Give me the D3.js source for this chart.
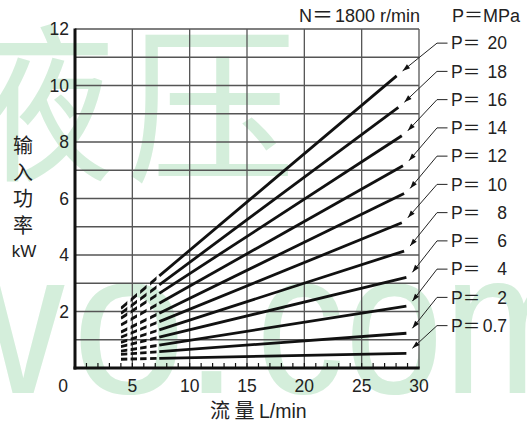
<!DOCTYPE html>
<html>
<head>
<meta charset="utf-8">
<script src="https://cdn.jsdelivr.net/npm/d3@7"></script>
<style>
  html, body { margin: 0; padding: 0; background: #fff; }
  svg { display: block; }
</style>
</head>
<body>
<svg id="chart" width="527" height="425"></svg>
<script>
// ---- data ----
const pressures   = [20, 18, 16, 14, 12, 10, 8, 6, 4, 2, 0.7];
const pLabels     = ["20", "18", "16", "14", "12", "10", "8", "6", "4", "2", "0.7"];
const dashStartQ  = 4.0;
const solidStartQ = 7.35;
const powerAtDashStart  = [2.11, 1.93, 1.76, 1.52, 1.27, 1.09, 0.91, 0.76, 0.60, 0.48, 0.31];
const powerAtSolidStart = [3.26, 2.94, 2.64, 2.29, 1.94, 1.64, 1.35, 1.09, 0.81, 0.58, 0.34];
const endQ        = [28.05, 28.2, 28.5, 28.6, 28.7, 28.5, 28.7, 28.9, 28.9, 28.9, 28.9];
const powerAtEnd  = [10.34, 9.23, 8.22, 7.16, 6.18, 5.14, 4.14, 3.21, 2.19, 1.23, 0.52];
const labelPower  = [11.5, 10.5, 9.5, 8.5, 7.5, 6.5, 5.5, 4.5, 3.5, 2.5, 1.5];
const dashStarts  = [4.0, 4.85, 5.68, 6.55];
const dashLen     = 0.56;
const xTicks      = [0, 5, 10, 15, 20, 25, 30];
const yTicks      = [0, 2, 4, 6, 8, 10, 12];
const yGrid       = d3.range(1, 13);
const xMinor      = d3.range(1, 30);
const yTitleChars = ["输", "入", "功", "率"];

// ---- setup ----
const svg = d3.select("#chart");
const x = d3.scaleLinear().domain([0, 30]).range([75, 419]);
const y = d3.scaleLinear().domain([0, 12]).range([368, 29]);
const latin = "'Liberation Sans', Arial, Helvetica, sans-serif";
const cjk = "'Noto Sans CJK SC', 'Noto Sans CJK JP', sans-serif";
const wm = "#d4eedb";
const ink = "#222";

// ---- watermark ----
const wmg = svg.append("g").attr("fill", wm);
wmg.append("text").attr("x", -55).attr("y", 168).attr("font-family", cjk)
  .attr("font-size", 170).text("液");
wmg.append("text").attr("x", 126).attr("y", 170).attr("font-family", cjk)
  .attr("font-size", 170).text("压");
[["w", -84], ["o", 72], [".", 183]].forEach(([t, px]) => {
  wmg.append("text").attr("x", px).attr("y", 393).attr("font-family", latin)
    .attr("font-size", 205).text(t);
});
wmg.append("text").attr("x", 256).attr("y", 393).attr("font-family", latin)
  .attr("font-size", 205).attr("textLength", 335).attr("lengthAdjust", "spacingAndGlyphs").text("com");

// ---- grid ----
const grid = svg.append("g").attr("stroke", "#555").attr("stroke-width", 1.3);
grid.selectAll("line.v").data(xTicks.filter(d => d > 0)).join("line")
  .attr("x1", d => x(d)).attr("x2", d => x(d)).attr("y1", y(0)).attr("y2", y(12));
grid.selectAll("line.h").data(yGrid).join("line")
  .attr("x1", x(0)).attr("x2", x(30)).attr("y1", d => y(d)).attr("y2", d => y(d));

// minor ticks on x axis
svg.append("g").attr("stroke", "#111").attr("stroke-width", 1.2)
  .selectAll("line").data(xMinor).join("line")
  .attr("x1", d => x(d)).attr("x2", d => x(d)).attr("y1", y(0)).attr("y2", y(0) - 5);

// axis lines
svg.append("line").attr("x1", x(0)).attr("x2", x(0)).attr("y1", y(12) - 0.5).attr("y2", y(0) + 1.5)
  .attr("stroke", "#111").attr("stroke-width", 3);
svg.append("line").attr("x1", x(0) - 1.5).attr("x2", x(30) + 0.7).attr("y1", y(0)).attr("y2", y(0))
  .attr("stroke", "#111").attr("stroke-width", 3);

// tick labels
svg.append("g").selectAll("text").data(yTicks.filter(d => d > 0)).join("text")
  .attr("x", 69).attr("y", d => y(d) + 6.3).attr("text-anchor", "end")
  .attr("font-family", latin).attr("font-size", 17.5).attr("fill", ink).text(d => d);
svg.append("g").selectAll("text").data(xTicks).join("text")
  .attr("x", d => d === 0 ? x(0) - 12 : x(d)).attr("y", 392).attr("text-anchor", "middle")
  .attr("font-family", latin).attr("font-size", 17.5).attr("fill", ink).text(d => d);

// ---- series ----
const defs = svg.append("defs");
const clip = defs.append("clipPath").attr("id", "dashclip");
clip.selectAll("rect").data(dashStarts).join("rect")
  .attr("x", d => x(d)).attr("width", x(dashLen) - x(0))
  .attr("y", 0).attr("height", 425);

const series = pressures.map((p, i) => ({
  p, label: pLabels[i],
  dash: [[dashStartQ, powerAtDashStart[i]], [solidStartQ, powerAtSolidStart[i]]],
  solid: [[solidStartQ, powerAtSolidStart[i]], [endQ[i], powerAtEnd[i]]],
  labelY: labelPower[i]
}));
const line = d3.line().x(d => x(d[0])).y(d => y(d[1]));

const lines = svg.append("g").attr("fill", "none").attr("stroke", "#111").attr("stroke-width", 2.8);
lines.selectAll("path.dash").data(series).join("path").attr("class", "dash")
  .attr("clip-path", "url(#dashclip)").attr("d", d => line(d.dash));
lines.selectAll("path.solid").data(series).join("path").attr("class", "solid")
  .attr("d", d => line(d.solid));

// ---- leaders & labels ----
const lab = svg.append("g");
series.forEach(s => {
  const end = s.solid[1];
  const tx = x(end[0]) + 6, ty = y(end[1]) - 5;
  const ly = y(s.labelY);
  const sx = 437;
  lab.append("line").attr("x1", sx).attr("x2", 447.5).attr("y1", ly).attr("y2", ly)
    .attr("stroke", ink).attr("stroke-width", 1);
  lab.append("line").attr("x1", sx).attr("y1", ly).attr("x2", tx).attr("y2", ty)
    .attr("stroke", ink).attr("stroke-width", 1);
  const ang = Math.atan2(ty - ly, tx - sx);
  const L = 7.5, W = 2.5;
  const bx = tx - L * Math.cos(ang), by = ty - L * Math.sin(ang);
  const px = -Math.sin(ang) * W, py = Math.cos(ang) * W;
  lab.append("path").attr("d", `M${tx},${ty}L${bx + px},${by + py}L${bx - px},${by - py}Z`)
    .attr("fill", "#111");
  const t = lab.append("text").attr("x", 451).attr("y", ly + 6.2)
    .attr("font-family", latin).attr("font-size", 17.5).attr("fill", ink);
  t.append("tspan").text("P");
  t.append("tspan").attr("font-family", cjk).attr("font-size", 17.5).text("＝");
  lab.append("text").attr("x", 507).attr("y", ly + 6.2).attr("text-anchor", "end")
    .attr("font-family", latin).attr("font-size", 17.5).attr("fill", ink).text(s.label);
});

// header texts
const h1 = svg.append("text").attr("x", 299).attr("y", 21.5).attr("font-family", latin)
  .attr("font-size", 18).attr("fill", ink);
h1.append("tspan").text("N");
h1.append("tspan").attr("font-family", cjk).attr("font-size", 21).text("＝");
h1.append("tspan").attr("dx", 2).text("1800 r/min");
const h2 = svg.append("text").attr("x", 452).attr("y", 21.5).attr("font-family", latin)
  .attr("font-size", 18).attr("fill", ink);
h2.append("tspan").text("P");
h2.append("tspan").attr("font-family", cjk).attr("font-size", 19).text("＝");
h2.append("tspan").text("MPa");

// y title (one text element, stacked characters)
const yt = svg.append("text").attr("font-family", cjk).attr("font-size", 20)
  .attr("fill", ink).attr("text-anchor", "middle");
yt.selectAll("tspan").data(yTitleChars).join("tspan")
  .attr("x", 23).attr("y", (d, i) => 153 + i * 26.5).text(d => d);
svg.append("text").attr("x", 24).attr("y", 257).attr("text-anchor", "middle")
  .attr("font-family", latin).attr("font-size", 17).attr("fill", ink).text("kW");

// x title
const xt = svg.append("text").attr("x", 210).attr("y", 418).attr("fill", ink);
xt.append("tspan").attr("font-family", cjk).attr("font-size", 20).attr("letter-spacing", 4.5).text("流量");
xt.append("tspan").attr("font-family", latin).attr("font-size", 19.5).text("L/min");
</script>
</body>
</html>
